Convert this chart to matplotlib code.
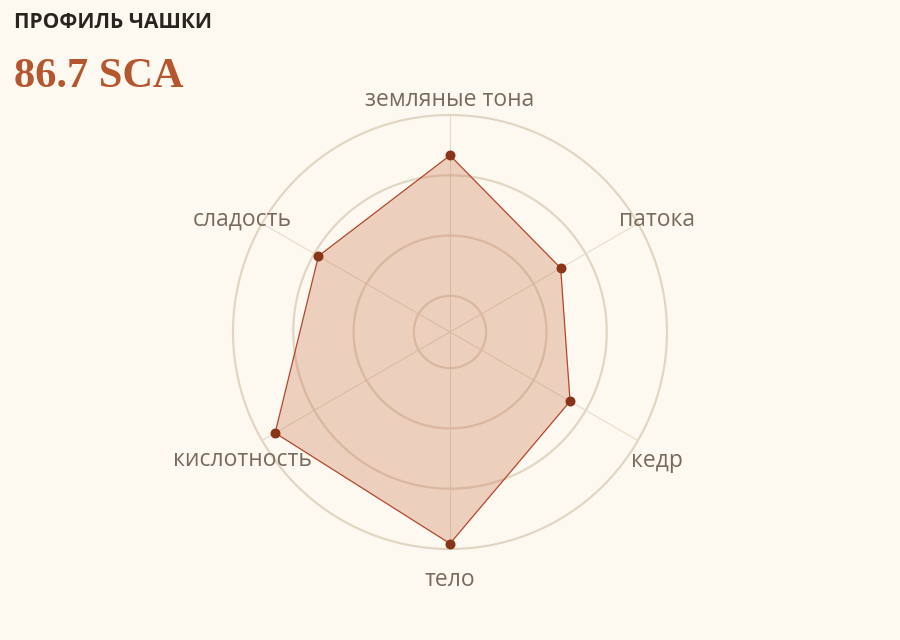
import numpy as np
import matplotlib
matplotlib.use("Agg")
import matplotlib.pyplot as plt

# ---- data ----
categories = ["земляные тона", "патока", "кедр", "тело", "кислотность", "сладость"]
values = [9.33, 8.52, 8.70, 9.91, 9.75, 8.92]
ring_values = [7, 8, 9, 10]
title_text = "ПРОФИЛЬ ЧАШКИ"
score_text = "86.7 SCA"

BG = "#fdf9f1"
RING = "#e2d6c3"
SPOKE = "#e6dccb"
LINE = "#b4462a"
FILL = "#c8704a"
MARK = "#8a3418"
LABEL = "#7a6a5c"

rmin, rmax = 6.4, 10.0

fig = plt.figure(figsize=(9, 6.4), dpi=100, facecolor=BG)
ax = fig.add_axes([(450 - 217) / 900, (308 - 217) / 640, 434 / 900, 434 / 640],
                  projection="polar", facecolor=BG)
ax.set_theta_zero_location("N")
ax.set_theta_direction(-1)

n = len(categories)
angles = np.linspace(0, 2 * np.pi, n, endpoint=False)

ax.set_ylim(rmin, rmax)
ax.set_yticks(ring_values)
ax.set_yticklabels([])
ax.set_xticks(angles)
ax.set_xticklabels([])
ax.tick_params(length=0)
ax.spines["polar"].set_visible(False)
ax.grid(False)

# spokes
for a in angles:
    ax.plot([a, a], [rmin, rmax], color=SPOKE, lw=0.8, zorder=1)
# rings
tt = np.linspace(0, 2 * np.pi, 400)
for rv in ring_values:
    ax.plot(tt, np.full_like(tt, rv), color=RING, lw=1.6, zorder=1, clip_on=False)

a_closed = np.append(angles, angles[0])
v_closed = np.append(values, values[0])
ax.fill(a_closed, v_closed, color=FILL, alpha=0.30, zorder=2, lw=0)
ax.plot(a_closed, v_closed, color=LINE, lw=0.9, zorder=3)
ax.scatter(angles, values, s=38, color=MARK, zorder=4, clip_on=False)

# labels (pixel positions)
label_pos = [(450, 100), (657, 220), (657, 461), (450, 580), (242, 460), (242, 220)]
for lab, (px, py) in zip(categories, label_pos):
    fig.text(px / 900, 1 - py / 640, lab, ha="center", va="center",
             fontsize=16.5, color=LABEL, family=["Open Sans", "DejaVu Sans"])

fig.text(14 / 900, 1 - 23 / 640, title_text, ha="left", va="center",
         fontsize=15, fontweight="bold", color="#2a2420",
         family=["Open Sans", "DejaVu Sans"])
fig.text(14 / 900, 1 - 77 / 640, score_text, ha="left", va="center",
         fontsize=30.5, fontweight="bold", color="#b5562e",
         family=["Liberation Serif", "DejaVu Serif"])

fig.savefig("out.png", dpi=100, facecolor=BG)
